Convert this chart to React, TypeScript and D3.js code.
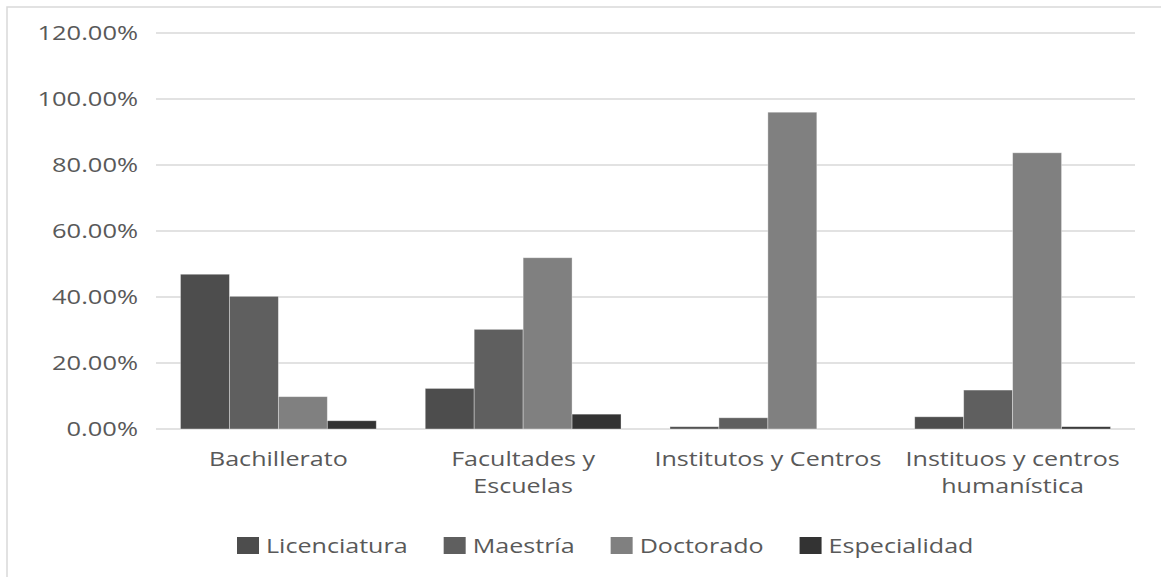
import React, { useEffect, useRef } from "react";
import * as d3 from "d3";

const categories = [
  "Bachillerato",
  "Facultades y Escuelas",
  "Institutos y Centros",
  "Instituos y centros humanística",
];
const categoryLines = [
  ["Bachillerato"],
  ["Facultades y", "Escuelas"],
  ["Institutos y Centros"],
  ["Instituos y centros", "humanística"],
];
const series = ["Licenciatura", "Maestría", "Doctorado", "Especialidad"];
const licenciatura = [0.469, 0.123, 0.007, 0.037];
const maestria = [0.402, 0.302, 0.034, 0.118];
const doctorado = [0.098, 0.519, 0.96, 0.837];
const especialidad = [0.025, 0.045, 0.0, 0.007];
const seriesValues = [licenciatura, maestria, doctorado, especialidad];
const colors = ["#4d4d4d", "#5f5f5f", "#808080", "#333333"];
const yTicks = [0, 0.2, 0.4, 0.6, 0.8, 1.0, 1.2];

const W = 1161;
const H = 577;
const FONT = "'Open Sans', 'DejaVu Sans', sans-serif";
const STRETCH = 1.28;
const TEXT = "#595959";

export default function App() {
  const ref = useRef<SVGSVGElement | null>(null);

  useEffect(() => {
    const svg = d3.select(ref.current);
    svg.selectAll("*").remove();

    // chart frame
    svg
      .append("rect")
      .attr("x", 7)
      .attr("y", 7)
      .attr("width", W + 20)
      .attr("height", H + 20)
      .attr("fill", "#fff")
      .attr("stroke", "#d9d9d9")
      .attr("stroke-width", 1.5);

    const x = d3.scaleBand<string>().domain(categories).range([156, 1135]);
    const xs = d3
      .scaleBand<string>()
      .domain(series)
      .range([0, x.bandwidth()])
      .paddingInner(0)
      .paddingOuter(0.5);
    const y = d3.scaleLinear().domain([0, 1.2]).range([429, 33]);
    const fmt = d3.format(".2%");

    // gridlines
    svg
      .append("g")
      .selectAll("line")
      .data(yTicks)
      .join("line")
      .attr("x1", 156)
      .attr("x2", 1135)
      .attr("y1", (d) => y(d))
      .attr("y2", (d) => y(d))
      .attr("stroke", "#d9d9d9")
      .attr("stroke-width", 1.5);

    // y tick labels
    svg
      .append("g")
      .selectAll("text")
      .data(yTicks)
      .join("text")
      .attr("transform", (d) => `translate(138,${y(d) + 7}) scale(1.3,1)`)
      .attr("text-anchor", "end")
      .attr("font-family", FONT)
      .attr("font-size", 19.6)
      .attr("fill", TEXT)
      .text((d) => fmt(d));

    // bars
    const groups = svg
      .append("g")
      .selectAll("g")
      .data(categories)
      .join("g")
      .attr("transform", (c) => `translate(${x(c)},0)`);
    groups
      .selectAll("rect")
      .data((c, i) => series.map((s, k) => ({ s, k, v: seriesValues[k][i] })))
      .join("rect")
      .attr("x", (d) => xs(d.s)!)
      .attr("width", xs.bandwidth())
      .attr("y", (d) => y(d.v))
      .attr("height", (d) => y(0) - y(d.v))
      .attr("fill", (d) => colors[d.k])
      .attr("stroke", "rgba(255,255,255,0.45)")
      .attr("stroke-width", 0.8);

    // category labels
    categories.forEach((c, i) => {
      categoryLines[i].forEach((line, j) => {
        svg
          .append("text")
          .attr(
            "transform",
            `translate(${x(c)! + x.bandwidth() / 2},${466 + j * 27}) scale(${STRETCH},1)`
          )
          .attr("text-anchor", "middle")
          .attr("font-family", FONT)
          .attr("font-size", 19.6)
          .attr("fill", TEXT)
          .text(line);
      });
    });

    // legend
    const legend = svg.append("g");
    let lx = 237;
    series.forEach((s, k) => {
      legend
        .append("rect")
        .attr("x", lx)
        .attr("y", 537)
        .attr("width", 22)
        .attr("height", 17)
        .attr("fill", colors[k]);
      const t = legend
        .append("text")
        .attr("transform", `translate(${lx + 29},553) scale(${STRETCH},1)`)
        .attr("font-family", FONT)
        .attr("font-size", 19.6)
        .attr("fill", TEXT)
        .text(s);
      const w = (t.node() as SVGTextElement).getComputedTextLength() * STRETCH;
      lx += 29 + w + 36;
    });
  }, []);

  return (
    <svg
      ref={ref}
      width={W}
      height={H}
      style={{ position: "absolute", left: 0, top: 0, background: "#fff" }}
    />
  );
}
